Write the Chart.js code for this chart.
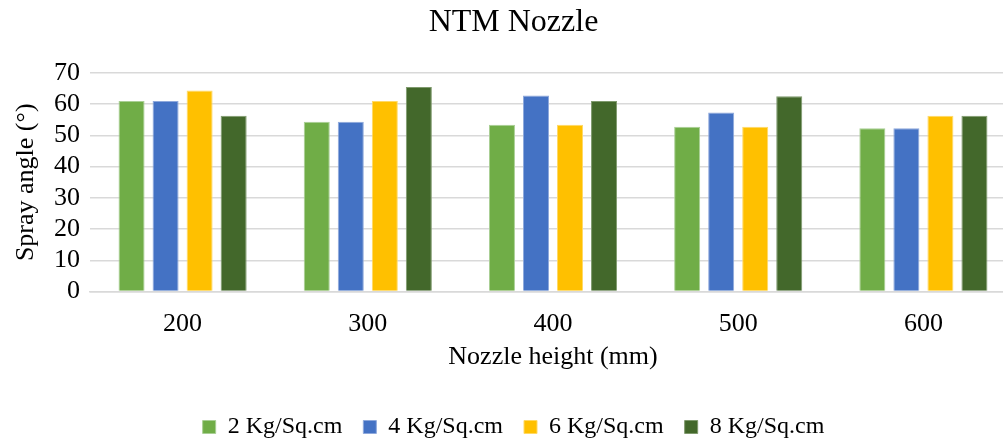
<!DOCTYPE html>
<html>
<head>
<meta charset="utf-8">
<script src="https://cdn.jsdelivr.net/npm/chart.js@4"></script>
<style>
html,body{margin:0;padding:0;overflow:hidden;background:#fff;}
#wrap{width:1020px;height:441px;}
</style>
</head>
<body>
<div id="wrap"><canvas id="c" width="1020" height="441"></canvas></div>
<script>
const categories = ['200','300','400','500','600'];
const seriesNames = ['2 Kg/Sq.cm','4 Kg/Sq.cm','6 Kg/Sq.cm','8 Kg/Sq.cm'];
const s2 = [61, 54.4, 53.4, 52.8, 52.3];
const s4 = [61, 54.4, 62.8, 57.3, 52.3];
const s6 = [64.4, 61, 53.4, 52.8, 56.3];
const s8 = [56.3, 65.5, 61, 62.5, 56.3];
const yTicks = [0,10,20,30,40,50,60,70];
const colors = ['#70ad47','#4472c4','#ffc000','#43682b'];
const borders = ['#a9cf95','#8fa9dc','#ffd966','#7f9a6d'];
const font = "'Liberation Serif','Times New Roman',serif";

const data = {
  labels: categories,
  datasets: [s2,s4,s6,s8].map((d,i)=>({
    label: seriesNames[i],
    data: d,
    backgroundColor: colors[i],
    borderColor: borders[i],
    borderWidth: 1,
    barPercentage: 0.765,
    categoryPercentage: 0.735
  }))
};

new Chart(document.getElementById('c'), {
  type: 'bar',
  data,
  options: {
    responsive: false,
    animation: false,
    devicePixelRatio: 1,
    layout: {padding: {left: 11, right: 4, top: 3, bottom: 0}},
    plugins: {
      title: {display: true, text: 'NTM Nozzle', color: '#000', font: {family: font, size: 32, weight: 'normal'}, padding: {top: 0, bottom: 31.5}},
      legend: {position: 'bottom', maxHeight: 47, labels: {color: '#000', font: {family: font, size: 24}, boxWidth: 13, boxHeight: 13, padding: 21}},
      tooltip: {enabled: false}
    },
    scales: {
      x: {
        grid: {display: false, drawTicks: false},
        border: {display: true, color: '#d9d9d9', width: 1.5},
        ticks: {color: '#000', font: {family: font, size: 26}, padding: 17},
        title: {display: true, text: 'Nozzle height (mm)', color: '#000', font: {family: font, size: 26}, padding: {top: -15, bottom: 21}}
      },
      y: {
        min: 0, max: 70,
        afterBuildTicks: (ax) => { ax.ticks = yTicks.map(v => ({value: v})); },
        afterFit: (ax) => { ax.width = 79; },
        grid: {color: '#d9d9d9', lineWidth: 1.5, drawTicks: false},
        border: {display: false},
        ticks: {color: '#000', font: {family: font, size: 26}, padding: 10, autoSkip: false},
        title: {display: true, text: 'Spray angle (°)', color: '#000', font: {family: font, size: 26}, padding: {top: 0, bottom: 10}}
      }
    }
  }
});
</script>
</body>
</html>
